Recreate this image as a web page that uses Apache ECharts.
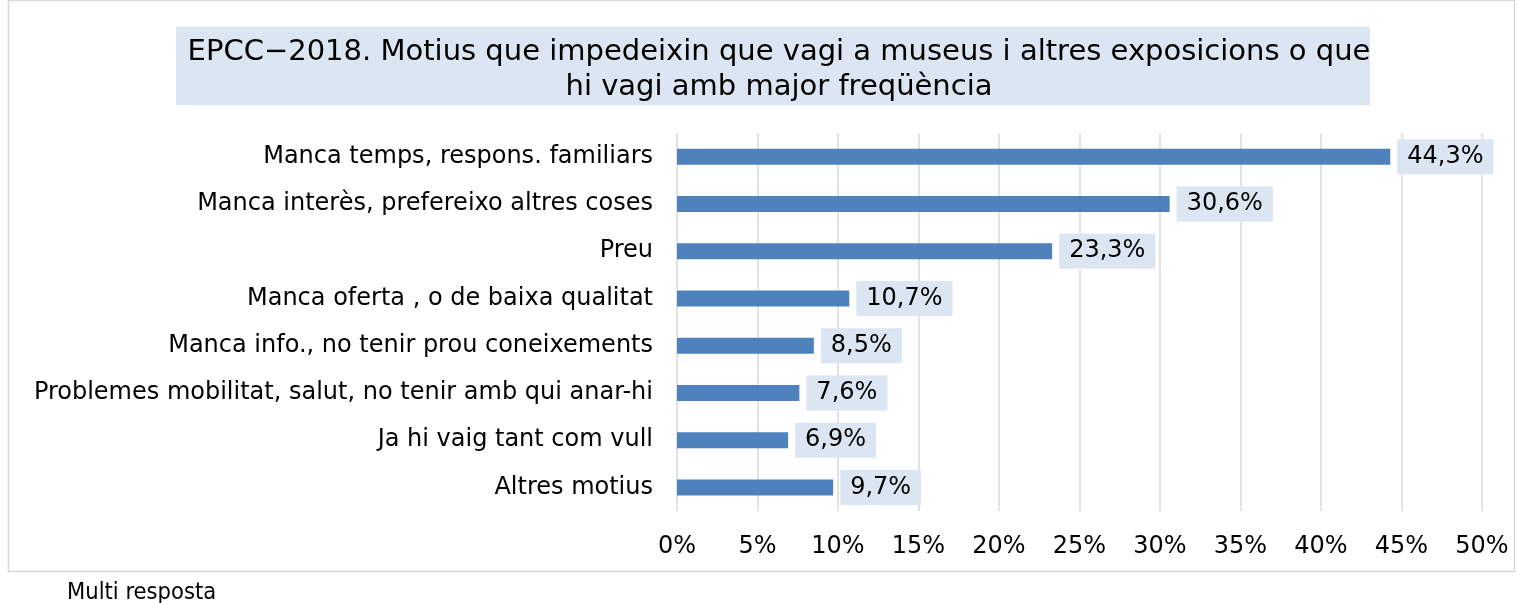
<!DOCTYPE html>
<html>
<head>
<meta charset="utf-8">
<script src="https://cdn.jsdelivr.net/npm/echarts@6/dist/echarts.min.js"></script>
<style>
  html, body { margin: 0; padding: 0; background: #fff; }
  #chart { width: 1517px; height: 603px; }
</style>
</head>
<body>
<div id="chart"></div>
<script>
// dades
const categories = [
  'Manca temps, respons. familiars',
  'Manca interès, prefereixo altres coses',
  'Preu',
  'Manca oferta , o de baixa qualitat',
  'Manca info., no tenir prou coneixements',
  'Problemes mobilitat, salut, no tenir amb qui anar-hi',
  'Ja hi vaig tant com vull',
  'Altres motius'
];
const values = [44.3, 30.6, 23.3, 10.7, 8.5, 7.6, 6.9, 9.7];
const titleText = 'EPCC\u22122018. Motius que impedeixin que vagi a museus i altres exposicions o que\nhi vagi amb major freqüència';
const noteText = 'Multi resposta';

const font = 'Verdana, "DejaVu Sans", sans-serif';
let myChart = echarts.init(document.getElementById('chart'));

myChart.setOption({
  animation: false,
  graphic: [
    { type: 'rect', shape: { x: 8.5, y: 0.5, width: 1506, height: 571 },
      style: { fill: 'none', stroke: '#d9d9d9', lineWidth: 1.5 } },
    { type: 'rect', shape: { x: 176, y: 27, width: 1194, height: 78 },
      style: { fill: '#dce6f2' }, z: 0 },
    { type: 'text', left: 67, top: 581,
      style: { text: noteText, fontSize: 23.5, fontFamily: '"Liberation Sans Narrow", "DejaVu Sans Condensed", sans-serif', fill: '#000' } }
  ],
  title: {
    text: titleText,
    left: 774,
    textAlign: 'center',
    top: 30,
    textStyle: { fontSize: 29, fontWeight: 'normal', fontFamily: font, color: '#000', lineHeight: 35 }
  },
  grid: { left: 677, right: 35, top: 133, bottom: 92, containLabel: false },
  xAxis: {
    type: 'value',
    min: 0, max: 50, interval: 5,
    axisLine: { show: false },
    axisTick: { show: false },
    splitLine: { lineStyle: { color: '#d9d9d9', width: 1.5 } },
    axisLabel: { formatter: '{value}%', fontSize: 24, fontFamily: font, color: '#000', margin: 24 }
  },
  yAxis: {
    type: 'category',
    inverse: true,
    data: categories,
    axisLine: { show: false },
    axisTick: { show: false },
    axisLabel: { fontSize: 24, fontFamily: font, color: '#000', margin: 24 }
  },
  series: [{
    type: 'bar',
    data: values,
    barWidth: 16,
    itemStyle: { color: '#4f81bd' },
    label: {
      show: true,
      position: 'right',
      distance: 7,
      formatter: p => p.value.toFixed(1).replace('.', ',') + '%',
      fontSize: 24,
      fontFamily: font,
      color: '#000',
      backgroundColor: '#dce6f2',
      padding: [6, 10, 5, 10]
    }
  }]
});
</script>
</body>
</html>
